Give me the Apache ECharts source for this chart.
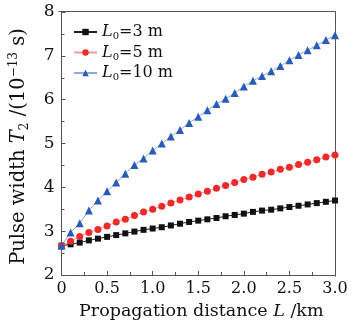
<!DOCTYPE html>
<html>
<head>
<meta charset="utf-8">
<script src="https://cdn.jsdelivr.net/npm/echarts@6/dist/echarts.min.js"></script>
<style>
  html, body { margin: 0; padding: 0; background: #fff; }
  #chart { width: 354px; height: 325px; }
</style>
</head>
<body>
<div id="chart"></div>
<script>
// Propagation distance L (km), sampled every 0.1 km
const distance = [0.0, 0.1, 0.2, 0.3, 0.4, 0.5, 0.6, 0.7, 0.8, 0.9, 1.0,
                  1.1, 1.2, 1.3, 1.4, 1.5, 1.6, 1.7, 1.8, 1.9, 2.0,
                  2.1, 2.2, 2.3, 2.4, 2.5, 2.6, 2.7, 2.8, 2.9, 3.0];

// Pulse width T2 (10^-13 s) for each initial length L0
const widthL3 = [2.67, 2.70, 2.74, 2.79, 2.83, 2.87, 2.91, 2.95, 2.99, 3.03, 3.06,
                 3.09, 3.13, 3.17, 3.21, 3.24, 3.27, 3.30, 3.34, 3.37, 3.40,
                 3.44, 3.47, 3.49, 3.52, 3.55, 3.58, 3.61, 3.64, 3.67, 3.70];
const widthL5 = [2.67, 2.77, 2.88, 2.97, 3.04, 3.12, 3.21, 3.27, 3.36, 3.44, 3.50,
                 3.57, 3.64, 3.71, 3.78, 3.85, 3.91, 3.98, 4.04, 4.11, 4.18,
                 4.23, 4.30, 4.35, 4.41, 4.46, 4.52, 4.57, 4.63, 4.69, 4.74];
const widthL10 = [2.67, 2.97, 3.18, 3.47, 3.70, 3.91, 4.11, 4.31, 4.51, 4.66, 4.84,
                  5.00, 5.16, 5.31, 5.47, 5.61, 5.76, 5.90, 6.02, 6.15, 6.30,
                  6.43, 6.54, 6.65, 6.77, 6.90, 7.02, 7.13, 7.24, 7.36, 7.47];

const seriesNames = ['L0=3 m', 'L0=5 m', 'L0=10 m'];
const xTicks = ['0', '0.5', '1.0', '1.5', '2.0', '2.5', '3.0'];

const FONT = 'DejaVu Serif';
const axisColor = '#555';

const pair = (ys) => distance.map((x, i) => [x, ys[i]]);

const chart = echarts.init(document.getElementById('chart'), null, { renderer: 'canvas' });

const legendRich = {
  it: { fontFamily: FONT, fontStyle: 'italic', fontSize: 16, color: '#111' },
  sub: { fontFamily: FONT, fontSize: 10, color: '#111', padding: [9, 0, 0, 0] },
  tx: { fontFamily: FONT, fontSize: 16, color: '#111' }
};

chart.setOption({
  animation: false,
  backgroundColor: '#fff',
  grid: { left: 58, right: 19, top: 12, bottom: 49, containLabel: false },
  legend: {
    left: 73, top: 24, orient: 'vertical', itemGap: 3, padding: 0,
    itemWidth: 23, itemHeight: 8,
    data: seriesNames,
    formatter: (name) => {
      const m = name.match(/^L0(=.*)$/);
      return '{it|L}{sub|0}{tx|' + m[1] + '}';
    },
    textStyle: { fontFamily: FONT, fontSize: 16, rich: legendRich }
  },
  xAxis: {
    type: 'value', min: 0, max: 3, interval: 0.5,
    name: '{tx|Propagation distance }{it|L}{tx| /km}',
    nameLocation: 'middle', nameGap: 27,
    nameTextStyle: {
      fontFamily: FONT, fontSize: 17.5, color: '#111', align: 'center',
      padding: [0, 0, 0, 6],
      rich: {
        tx: { fontFamily: FONT, fontSize: 17.5, color: '#111' },
        it: { fontFamily: FONT, fontStyle: 'italic', fontSize: 17.5, color: '#111' }
      }
    },
    axisLine: { show: true, onZero: false, lineStyle: { color: axisColor, width: 1 } },
    axisTick: { inside: true, length: 4, lineStyle: { color: axisColor } },
    minorTick: { show: true, splitNumber: 2, length: 3, lineStyle: { color: axisColor } },
    splitLine: { show: false },
    axisLabel: {
      fontFamily: FONT, fontSize: 16, color: '#111', margin: 6,
      formatter: (v) => xTicks[Math.round(v * 2)]
    }
  },
  yAxis: {
    type: 'value', min: 2, max: 8, interval: 1,
    name: '{tx|Pulse width }{it|T}{sub|2}{tx| /(10}{sup|−13}{tx| s)}',
    nameLocation: 'middle', nameGap: 31, nameRotate: 90,
    nameTextStyle: {
      fontFamily: FONT, fontSize: 19.5, color: '#111', align: 'center',
      padding: [0, 6, 0, 0],
      rich: {
        tx: { fontFamily: FONT, fontSize: 19.5, color: '#111' },
        it: { fontFamily: FONT, fontStyle: 'italic', fontSize: 19.5, color: '#111' },
        sub: { fontFamily: FONT, fontSize: 12, color: '#111', padding: [11, 0, 0, 0] },
        sup: { fontFamily: FONT, fontSize: 12, color: '#111', padding: [0, 0, 10, 0] }
      }
    },
    axisLine: { show: true, lineStyle: { color: axisColor, width: 1 } },
    axisTick: { inside: true, length: 4, lineStyle: { color: axisColor } },
    minorTick: { show: true, splitNumber: 2, length: 3, lineStyle: { color: axisColor } },
    splitLine: { show: false },
    axisLabel: { fontFamily: FONT, fontSize: 17, color: '#111', margin: 7 }
  },
  series: [
    {
      name: seriesNames[0], type: 'line', data: pair(widthL3),
      symbol: 'rect', symbolSize: 6,
      lineStyle: { color: '#222', width: 1 },
      itemStyle: { color: '#111' }
    },
    {
      name: seriesNames[1], type: 'line', data: pair(widthL5),
      symbol: 'circle', symbolSize: 7,
      lineStyle: { color: '#f29a9a', width: 1 },
      itemStyle: { color: '#ee2a2a' }
    },
    {
      name: seriesNames[2], type: 'line', data: pair(widthL10),
      symbol: 'triangle', symbolSize: 8,
      lineStyle: { color: '#8fa8dd', width: 1 },
      itemStyle: { color: '#2a5bb8' },
      z: 3
    }
  ],
  graphic: [
    // top and right frame lines closing the plot box
    {
      type: 'polyline',
      shape: { points: [[58.5, 11.5], [335.5, 11.5], [335.5, 276.5]] },
      style: { stroke: axisColor, lineWidth: 1, fill: null },
      silent: true
    }
  ]
});
</script>
</body>
</html>
